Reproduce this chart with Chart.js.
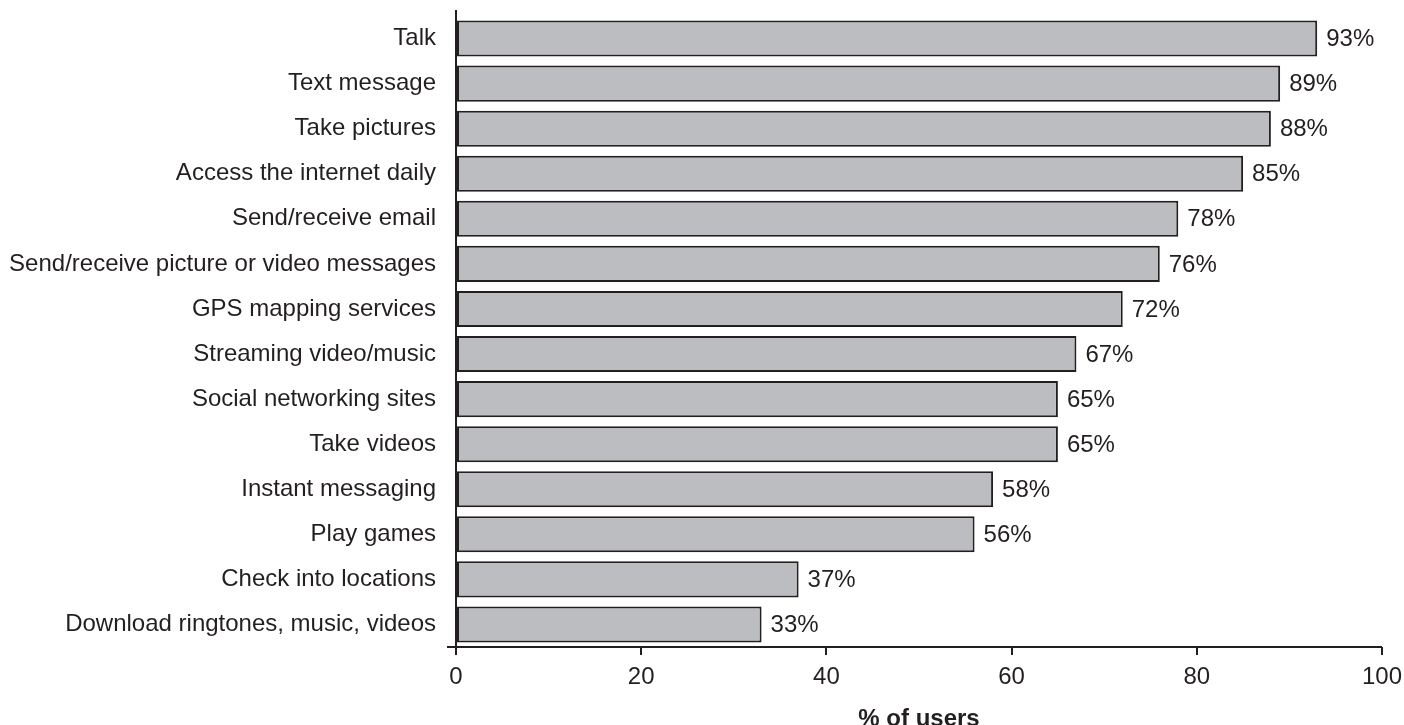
<!DOCTYPE html>
<html>
<head>
<meta charset="utf-8">
<script src="https://cdn.jsdelivr.net/npm/chart.js@4"></script>
<style>
  html, body { margin: 0; padding: 0; background: #fff; }
  #wrap { width: 1404px; height: 725px; }
</style>
</head>
<body>
<div id="wrap"><canvas id="myChart"></canvas></div>
<script>
// 데이터
const categories = [
    'Talk', 'Text message', 'Take pictures', 'Access the internet daily',
    'Send/receive email', 'Send/receive picture or video messages',
    'GPS mapping services', 'Streaming video/music', 'Social networking sites',
    'Take videos', 'Instant messaging', 'Play games', 'Check into locations',
    'Download ringtones, music, videos'
];
const userPct = [93, 89, 88, 85, 78, 76, 72, 67, 65, 65, 58, 56, 37, 33];
const xTicks = [0, 20, 40, 60, 80, 100];

const ink = '#231f20';
const fontFamily = '"Liberation Sans", Arial, Helvetica, sans-serif';
const fontSize = 24;

// 축선과 막대 끝 값 라벨 그리기
const axisAndLabels = {
    id: 'axisAndLabels',
    afterDatasetsDraw(chart) {
        const { ctx, chartArea } = chart;
        ctx.save();
        ctx.strokeStyle = ink;
        ctx.lineWidth = 2;
        ctx.beginPath();
        ctx.moveTo(chartArea.left, chartArea.top - 6);
        ctx.lineTo(chartArea.left, chartArea.bottom);
        ctx.moveTo(chartArea.left - 9, chartArea.bottom);
        ctx.lineTo(chartArea.right, chartArea.bottom);
        ctx.stroke();

        const meta = chart.getDatasetMeta(0);
        ctx.fillStyle = ink;
        ctx.font = fontSize + 'px ' + fontFamily;
        ctx.textAlign = 'left';
        ctx.textBaseline = 'middle';
        meta.data.forEach((bar, i) => {
            ctx.fillText(userPct[i] + '%', bar.x + 9, bar.y + 1);
        });
        ctx.restore();
    }
};

const ctx = document.getElementById('myChart').getContext('2d');
new Chart(ctx, {
    type: 'bar',
    data: {
        labels: categories,
        datasets: [{
            data: userPct,
            backgroundColor: '#bcbdc0',
            borderColor: ink,
            borderWidth: 2,
            borderSkipped: false,
            categoryPercentage: 1,
            barPercentage: 0.8
        }]
    },
    options: {
        indexAxis: 'y',
        responsive: true,
        maintainAspectRatio: false,
        animation: false,
        layout: { padding: { top: 16, right: 22, left: 0, bottom: 0 } },
        plugins: {
            legend: { display: false },
            tooltip: { enabled: false }
        },
        scales: {
            x: {
                min: 0,
                max: 100,
                afterBuildTicks(scale) {
                    scale.ticks = xTicks.map(v => ({ value: v }));
                },
                afterFit(scale) {
                    scale.height = 78;
                    scale.paddingLeft = 0;
                    scale.paddingRight = 0;
                },
                border: { display: false },
                grid: {
                    drawOnChartArea: false,
                    drawTicks: true,
                    tickLength: 8,
                    color: ink,
                    lineWidth: 2
                },
                ticks: {
                    padding: 8,
                    color: ink,
                    maxRotation: 0,
                    font: { family: fontFamily, size: fontSize }
                },
                title: {
                    display: true,
                    text: '% of users',
                    color: ink,
                    padding: { top: 0, bottom: -9 },
                    font: { family: fontFamily, size: fontSize, weight: 'bold' }
                }
            },
            y: {
                afterFit(scale) {
                    scale.width = 456;
                    scale.paddingTop = 0;
                    scale.paddingBottom = 0;
                },
                border: { display: false },
                grid: { display: false, drawTicks: false },
                ticks: {
                    padding: 20,
                    color: ink,
                    font: { family: fontFamily, size: fontSize }
                }
            }
        }
    },
    plugins: [axisAndLabels]
});
</script>
</body>
</html>
